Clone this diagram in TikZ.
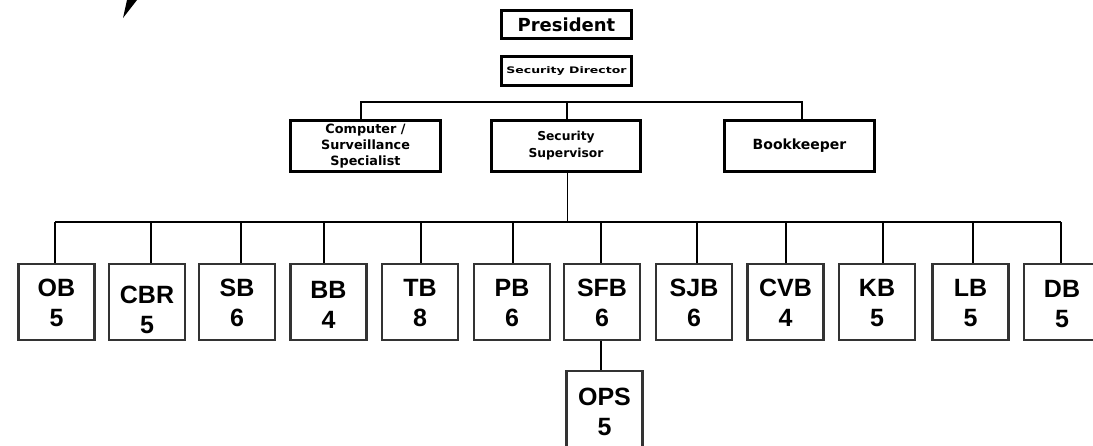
\documentclass[tikz,border=0pt]{standalone}
\usepackage{fontspec}
\setmainfont{Liberation Sans}
\newfontfamily\topfont{DejaVu Sans}
\begin{document}
\begin{tikzpicture}[x=1pt,y=-1pt,
  topbox/.style={draw=black,line width=3.2pt,rectangle,inner sep=0pt,align=center,
    font=\topfont\bfseries\fontsize{12}{16}\selectfont},
  unitbox/.style={draw=black!80,line width=2.4pt,rectangle,inner sep=0pt,
    minimum width=76pt,minimum height=76pt},
  utext/.style={align=center,inner sep=0pt,font=\bfseries\fontsize{25}{30}\selectfont},
  link/.style={draw=black,line width=1.4pt}]
\useasboundingbox (0,0) rectangle (1093,445);
\clip (0,0) rectangle (1093,445);
\fill[white] (0,0) rectangle (1093,445);
% quill stroke
\fill[black] (123,18) -- (127,0) -- (137,0) -- cycle;
% top boxes
\node[topbox,line width=3.8pt,minimum width=130pt,minimum height=28pt,font=\topfont\bfseries\fontsize{18}{20}\selectfont] (pres) at (566.5,24.5) {President};
\node[topbox,minimum width=130pt,minimum height=29pt] (dir) at (566.5,71) {\scalebox{1.25}[0.9]{\fontsize{10}{12}\selectfont Security Director}};
\node[topbox,minimum width=150pt,minimum height=51pt,font=\topfont\bfseries\fontsize{12.8}{16}\selectfont] (comp) at (365.5,146) {Computer /\\Surveillance\\Specialist};
\node[topbox,minimum width=149pt,minimum height=51pt,font=\topfont\bfseries\fontsize{12.3}{17}\selectfont] (sup) at (566,146) {Security\\Supervisor};
\node[topbox,minimum width=150pt,minimum height=51pt,font=\topfont\bfseries\fontsize{14}{16}\selectfont] (book) at (799.5,146) {Bookkeeper};
% top bus
\coordinate (tbus) at (566,102);
\draw[link] ([xshift=-4.5pt]comp.north) -- ([xshift=-4.5pt]comp.north |- tbus) -- ([xshift=2.5pt]book.north |- tbus) -- ([xshift=2.5pt]book.north);
\draw[link] ([xshift=1pt]sup.north) -- ([xshift=1pt]sup.north |- tbus);
% units
\node[unitbox,label={[utext,yshift=-1pt]center:{OB\\5}}]  (ob)  at (56.5,302) {};
\node[unitbox,label={[utext,yshift=-8pt]center:{CBR\\5}}] (cbr) at (147,302) {};
\node[unitbox,label={[utext,yshift=-1pt]center:{SB\\6}}]  (sb)  at (237,302) {};
\node[unitbox,label={[utext,yshift=-3pt]center:{BB\\4}}]  (bb)  at (328.5,302) {};
\node[unitbox,label={[utext,yshift=-1pt]center:{TB\\8}}]  (tb)  at (420,302) {};
\node[unitbox,label={[utext,yshift=-1pt]center:{PB\\6}}]  (pb)  at (512,302) {};
\node[unitbox,label={[utext,yshift=-1pt]center:{SFB\\6}}] (sfb) at (602,302) {};
\node[unitbox,label={[utext,yshift=-1pt]center:{SJB\\6}}] (sjb) at (694,302) {};
\node[unitbox,label={[utext,yshift=-1pt]center:{CVB\\4}}] (cvb) at (785.5,302) {};
\node[unitbox,label={[utext,yshift=-1pt]center:{KB\\5}}]  (kb)  at (877,302) {};
\node[unitbox,label={[utext,yshift=-1pt]center:{LB\\5}}]  (lb)  at (970.5,302) {};
\node[unitbox,label={[utext,yshift=-2pt]center:{DB\\5}}]  (db)  at (1062,302) {};
\node[unitbox,label={[utext,yshift=-3pt]center:{OPS\\5}}] (ops) at (604.5,409) {};
% bottom bus
\coordinate (bbus) at (567,222);
\draw[link,line width=1.9pt] ([xshift=1.5pt]sup.south) -- ([xshift=1.5pt]sup.south |- bbus);
\draw[link] ([xshift=-1.5pt]ob.north |- bbus) -- ([xshift=-1pt]db.north |- bbus);
\draw[link] ([xshift=-1.5pt]ob.north) -- ([xshift=-1.5pt]ob.north |- bbus);
\draw[link] ([xshift=4pt]cbr.north) -- ([xshift=4pt]cbr.north |- bbus);
\draw[link] ([xshift=4pt]sb.north) -- ([xshift=4pt]sb.north |- bbus);
\draw[link] ([xshift=-4.5pt]bb.north) -- ([xshift=-4.5pt]bb.north |- bbus);
\draw[link] ([xshift=1pt]tb.north) -- ([xshift=1pt]tb.north |- bbus);
\draw[link] ([xshift=1pt]pb.north) -- ([xshift=1pt]pb.north |- bbus);
\draw[link] ([xshift=-1pt]sfb.north) -- ([xshift=-1pt]sfb.north |- bbus);
\draw[link] ([xshift=3pt]sjb.north) -- ([xshift=3pt]sjb.north |- bbus);
\draw[link] ([xshift=0.5pt]cvb.north) -- ([xshift=0.5pt]cvb.north |- bbus);
\draw[link] ([xshift=6pt]kb.north) -- ([xshift=6pt]kb.north |- bbus);
\draw[link] ([xshift=2.5pt]lb.north) -- ([xshift=2.5pt]lb.north |- bbus);
\draw[link] ([xshift=-1pt]db.north) -- ([xshift=-1pt]db.north |- bbus);
\draw[link] ([xshift=-1pt]sfb.south) -- ([xshift=-1pt]sfb.south |- ops.north);
\end{tikzpicture}
\end{document}
